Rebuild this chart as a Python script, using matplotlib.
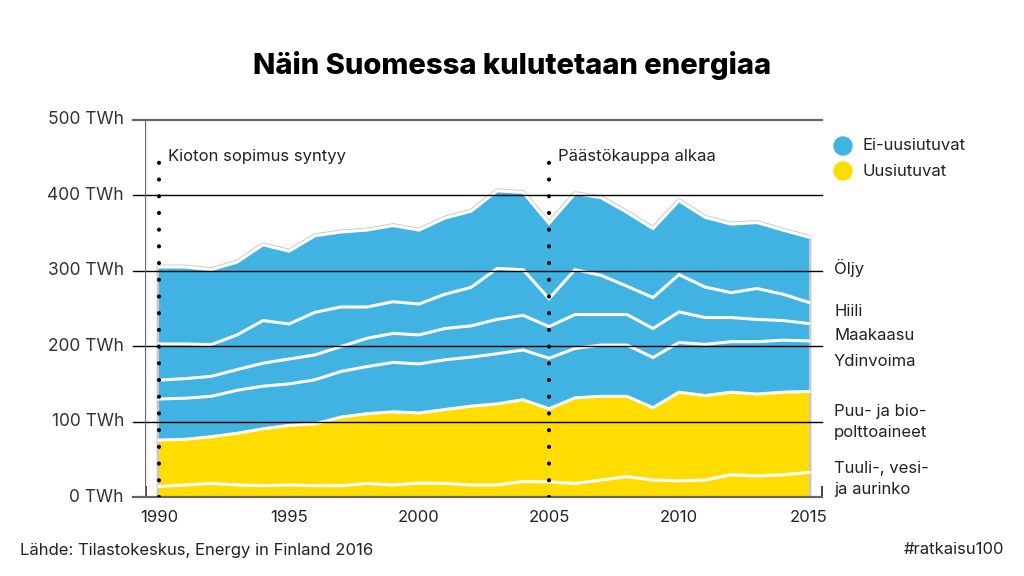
import numpy as np
import matplotlib
matplotlib.use('Agg')
import matplotlib.pyplot as plt

plt.rcParams['font.family'] = ['Inter', 'DejaVu Sans']

# data (TWh)
years = list(range(1990, 2016))
vesi = [14, 16, 18, 16, 15, 16, 15, 15, 18, 16, 18.5, 18, 16, 16, 20.5, 20, 18, 22.5, 27, 22.5, 21.5, 22.5, 29.5, 28, 29.5, 32.5]
bio = [61.5, 60.5, 62, 68.5, 75.5, 79, 82, 91, 92.5, 97, 93, 98, 104.5, 107.5, 108.5, 97, 113.5, 111, 106.5, 96, 117.5, 112, 109.5, 108.5, 109.5, 107.5]
ydin = [54.5, 54.5, 53.5, 57, 56.5, 55, 58.5, 60.5, 62.5, 65.5, 65, 66, 65, 66.5, 66, 67, 65.5, 68, 68, 66.5, 66, 68, 67, 69.5, 69, 67]
kaasu = [25, 26, 26.5, 27.5, 30.5, 33, 33, 33, 37.5, 38.5, 38.5, 41.5, 41.5, 45.5, 46, 42, 45, 40.5, 40.5, 38.5, 40.5, 35.5, 32, 29.5, 26, 23]
hiili = [48, 46, 42, 46, 56.5, 46.5, 56.5, 52.5, 41.5, 42, 41, 45.5, 51, 67.5, 60.5, 37, 59.5, 52, 37.5, 41, 49.5, 40.5, 33, 41, 35, 28]
oljy = [102, 102, 99.5, 96.5, 100.5, 96.5, 101.5, 99.5, 102, 101, 98, 101, 101, 103, 102.5, 100, 101, 103, 98, 91.5, 98, 92.5, 91, 87.5, 85, 86.5]

layers = [vesi, bio, ydin, kaasu, hiili, oljy]
layer_names = ['Tuuli-, vesi-\nja aurinko', 'Puu- ja bio-\npolttoaineet', 'Ydinvoima', 'Maakaasu', 'Hiili', 'Öljy']
events = [(1990, 'Kioton sopimus syntyy'), (2005, 'Päästökauppa alkaa')]

BLUE = '#41b3e3'
YELLOW = '#ffdd00'
colors = [YELLOW, YELLOW, BLUE, BLUE, BLUE, BLUE]


def fx(x):
    return x / 1024


def fy(y):
    return 1 - y / 576


fig = plt.figure(figsize=(10.24, 5.76), dpi=100)
ax = fig.add_axes([fx(145), fy(497), fx(822) - fx(145), fy(120) - fy(497)])
ax.set_xlim(1989.46, 2015.5)
ax.set_ylim(0, 500)

x = np.array(years)
stack = np.cumsum(np.array(layers), axis=0)

# grey outline round the whole area
ax.fill_between(x, 0, stack[-1], facecolor='none', edgecolor='#c8c8c8', lw=3.5, zorder=1)
ax.stackplot(x, layers, colors=colors, lw=0, zorder=2)
for row in stack:
    ax.plot(x, row, color='white', lw=2.2, zorder=3, solid_joinstyle='miter')

# grid lines (also act as the y ticks)
for v in [0, 100, 200, 300, 400, 500]:
    c = '#666666' if v in (0, 500) else 'black'
    w = 1.6 if v in (0, 500) else 1.0
    ax.plot([1989.0, 2015.5], [v, v], color=c, lw=w, zorder=4, clip_on=False)
    ax.text(1988.65, v, f'{v} TWh', ha='right', va='center', fontsize=12.5, color='#333333')
ax.axvline(1989.46, color='#666666', lw=1.6, zorder=4)

# event markers
for yr, label in events:
    ax.plot([yr, yr], [0, 461], color='black', lw=3, linestyle=(0, (0.01, 4.0)),
            dash_capstyle='round', zorder=5)
    ax.text(yr + 0.35, 451, label, ha='left', va='center', fontsize=12, color='#222222')

for s in ax.spines.values():
    s.set_visible(False)
ax.set_yticks([])
ax.set_xticks([1990, 1995, 2000, 2005, 2010, 2015])
ax.set_xticks(np.arange(1989.5, 2016, 1.0), minor=True)
ax.tick_params(axis='x', which='major', length=0, pad=9, labelsize=12, labelcolor='#222222')
ax.tick_params(axis='x', which='minor', direction='in', length=8, width=1.2, color='#222222')
for t in ax.xaxis.get_minorticklines():
    t.set_zorder(6)

# legend
for y, c, lab in [(146, BLUE, 'Ei-uusiutuvat'), (171, YELLOW, 'Uusiutuvat')]:
    fig.patches.append(matplotlib.patches.Ellipse((fx(843), fy(y)), 18 / 1024, 18 / 576,
                                                  transform=fig.transFigure, color=c))
    fig.text(fx(862), fy(y), lab, ha='left', va='center', fontsize=12, color='#222222')

# series labels on the right
label_y = [479, 422, 361, 336, 311, 268]
for name, y in zip(layer_names, label_y):
    fig.text(fx(834), fy(y), name, ha='left', va='center', fontsize=12, color='#222222',
             linespacing=1.45)

fig.text(0.5, fy(65), 'Näin Suomessa kulutetaan energiaa', ha='center', va='center',
         fontsize=21, fontweight='heavy', color='black')
fig.text(fx(20), fy(550), 'Lähde: Tilastokeskus, Energy in Finland 2016', ha='left', va='center',
         fontsize=12, color='#222222')
fig.text(fx(1004), fy(550), '#ratkaisu100', ha='right', va='center', fontsize=12, color='#222222')

fig.savefig('out.png', dpi=100)
